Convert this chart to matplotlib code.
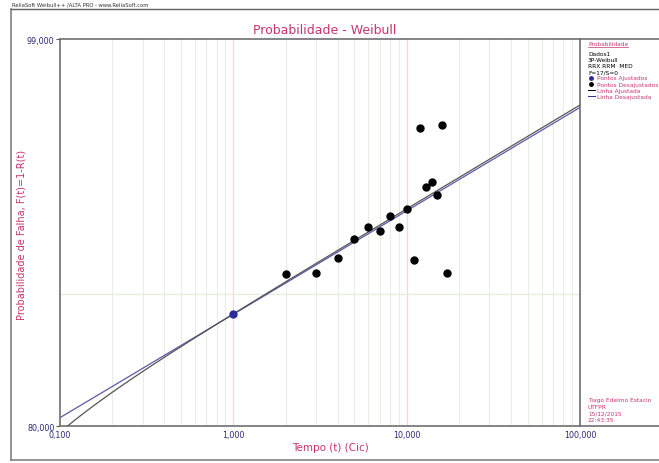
import numpy as np
import matplotlib
matplotlib.use("Agg")
import matplotlib.pyplot as plt
from matplotlib.lines import Line2D

# ---- data ----
tempo = [1, 2, 3, 4, 5, 6, 7, 8, 9, 10, 11, 12, 13, 14, 15, 16, 17]
prob = [88.7, 91.2, 91.3, 92.1, 93.1, 93.7, 93.5, 94.2, 93.7, 94.5,
        92.0, 97.3, 95.4, 95.6, 95.1, 97.4, 91.3]
ajustado = [True] + [False] * 16

# fitted line parameters (3P Weibull, black) and unadjusted line (2P, blue)
beta_aj, eta_aj, gamma_aj = 0.1224, 0.00165, 0.03
beta_des, eta_des = 0.122, 0.00168

x_ticks = [0.1, 1, 10, 100]
x_tick_labels = ["0,100", "1,000", "10,000", "100,000"]
y_ticks = [80, 99]
y_tick_labels = ["80,000", "99,000"]
y_grid = [90]

title = "Probabilidade - Weibull"
xlabel = "Tempo (t) (Cic)"
ylabel = "Probabilidade de Falha, F(t)=1-R(t)"
legend_info = ["Dados1", "3P-Weibull", "RRX RRM  MED", "F=17/S=0"]
legend_items = ["Pontos Ajustados", "Pontos Desajustados", "Linha Ajustada", "Linha Desajustada"]
footer = ["Tiago Edelmo Estacio", "UTFPR", "15/12/2015", "22:43:35"]
header = "ReliaSoft Weibull++ /ALTA PRO - www.ReliaSoft.com"

PINK = "#c8336e"
NAVY = "#2a2a7a"
BLUE = "#2b2b9a"


def fwd(F):
    F = np.asarray(F, dtype=float)
    with np.errstate(all="ignore"):
        return np.log(-np.log(1 - F / 100.0))


def inv(w):
    w = np.asarray(w, dtype=float)
    with np.errstate(all="ignore"):
        return 100.0 * (1 - np.exp(-np.exp(w)))


W, H = 659, 464
fig = plt.figure(figsize=(W / 100, H / 100), dpi=100)
L, R, T, B = 60, 580, 40, 427
ax = fig.add_axes([L / W, 1 - B / H, (R - L) / W, (B - T) / H])
ax.set_xscale("log")
ax.set_yscale("function", functions=(fwd, inv))
ax.set_xlim(0.1, 100)
ax.set_ylim(80, 99)

# grid
for dec in [0.1, 1, 10]:
    for m in range(2, 10):
        ax.axvline(dec * m, color="#e6f0e2", lw=0.8, zorder=0)
for dec in [1, 10]:
    ax.axvline(dec, color="#f3d6de", lw=0.9, zorder=0)
for g in y_grid:
    ax.axhline(g, color="#e3efdc", lw=0.9, zorder=0)

# lines
tt = np.logspace(-1, 2, 400)
with np.errstate(all="ignore"):
    w_aj = beta_aj * np.log(tt - gamma_aj) - beta_aj * np.log(eta_aj)
    w_des = beta_des * np.log(tt) - beta_des * np.log(eta_des)
ax.plot(tt, inv(w_des), color="#5a5aa8", lw=0.9, zorder=2)
ax.plot(tt, inv(w_aj), color="#555555", lw=0.9, zorder=3)

# points
for t, p, a in zip(tempo, prob, ajustado):
    ax.plot(t, p, "o", ms=5, color=(BLUE if a else "black"), zorder=4)

ax.set_xticks(x_ticks)
ax.set_xticklabels(x_tick_labels)
ax.xaxis.set_minor_locator(matplotlib.ticker.NullLocator())
ax.set_yticks(y_ticks)
ax.set_yticklabels(y_tick_labels)
ax.yaxis.set_minor_locator(matplotlib.ticker.NullLocator())
ax.tick_params(axis="both", labelsize=5.8, colors="#555555", labelcolor=NAVY,
               length=3, width=0.8, direction="out", pad=1)
ax.tick_params(axis="x", length=0, pad=3)
for s in ax.spines.values():
    s.set_color("#707070")
    s.set_linewidth(1.2)

fig.text(325 / W, 1 - 30 / H, title, color=PINK, fontsize=9, ha="center", va="center")
fig.text(330 / W, 1 - 448 / H, xlabel, color=PINK, fontsize=7.5, ha="center", va="center")
fig.text(22 / W, 1 - 235 / H, ylabel, color=PINK, fontsize=7, ha="center",
         va="center", rotation=90)
fig.text(12 / W, 1 - 5 / H, header, color="#333333", fontsize=3.8, ha="left", va="center")

# outer frame and header line
fig.add_artist(Line2D([11 / W, 11 / W], [1 - 10 / H, 1 - 461 / H], color="#808080", lw=1.2))
fig.add_artist(Line2D([11 / W, 1], [1 - 461 / H, 1 - 461 / H], color="#808080", lw=1.2))
fig.add_artist(Line2D([11 / W, 1], [1 - 10 / H, 1 - 10 / H], color="#606060", lw=1.0))
fig.add_artist(Line2D([R / W, 1], [1 - T / H, 1 - T / H], color="#707070", lw=1.2))
fig.add_artist(Line2D([R / W, 1], [1 - B / H, 1 - B / H], color="#707070", lw=1.2))

# legend panel
lx = 588 / W
y0 = 44
FS = 4.2
fig.text(lx, 1 - y0 / H, "Probabilidade", color=PINK, fontsize=FS, ha="left", va="center")
fig.add_artist(Line2D([lx, 628 / W], [1 - (y0 + 4) / H] * 2, color=PINK, lw=0.5))
ly = y0 + 10
for s in legend_info:
    fig.text(lx, 1 - ly / H, s, color="black", fontsize=FS, ha="left", va="center")
    ly += 6.2
for i, s in enumerate(legend_items):
    if i < 2:
        fig.add_artist(Line2D([lx + 3 / W], [1 - ly / H], marker="o", ms=2.5,
                              color=(BLUE if i == 0 else "black"), lw=0))
    else:
        fig.add_artist(Line2D([lx, lx + 7 / W], [1 - ly / H] * 2,
                              color=("black" if i == 2 else BLUE), lw=0.7))
    fig.text(lx + 9 / W, 1 - ly / H, s, color=PINK, fontsize=FS, ha="left", va="center")
    ly += 6.2

fy = 401
for s in footer:
    fig.text(lx, 1 - fy / H, s, color=PINK, fontsize=FS, ha="left", va="center")
    fy += 6.5

fig.savefig("out.png", dpi=100)
